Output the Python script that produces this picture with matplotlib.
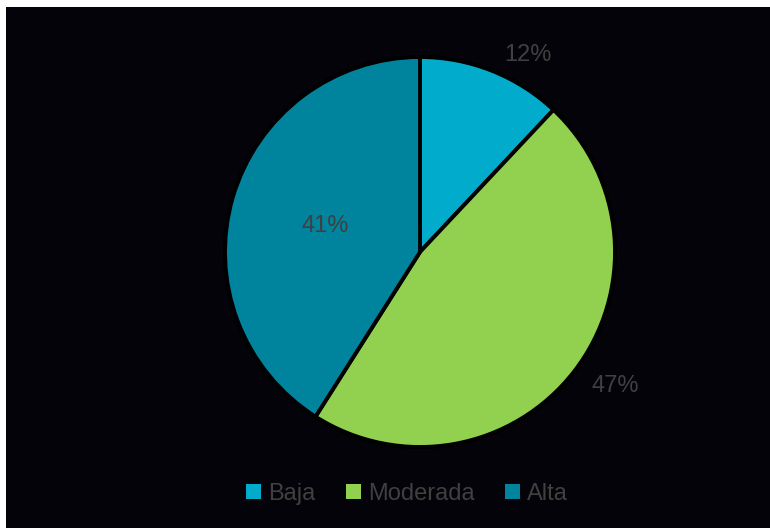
import numpy as np
import matplotlib
matplotlib.use("Agg")
import matplotlib.pyplot as plt
from matplotlib.patches import Patch, Rectangle

plt.rcParams['font.family'] = ['Liberation Sans', 'DejaVu Sans']

categories = ["Baja", "Moderada", "Alta"]
shares = [12, 47, 41]
labels = ["12%", "47%", "41%"]
colors = ["#00ABCC", "#92D050", "#00839C"]

# label placement (radius as fraction of pie radius, angle in degrees)
label_polar = [(1.152, 61.3), (1.213, -34.5), (0.505, 164.7)]

W, H = 770, 528
fig = plt.figure(figsize=(W / 100, H / 100), dpi=100, facecolor="white")
bg = "#030309"
fig.patches.append(Rectangle((6 / W, 0), 1 - 6 / W, 1 - 7 / H,
                             transform=fig.transFigure, facecolor=bg,
                             edgecolor="none", zorder=-10))

cx, cy, R = 420, H - 252, 195
box = 210
ax = fig.add_axes([(cx - box) / W, (cy - box) / H, 2 * box / W, 2 * box / H])
ax.set_zorder(5)

ax.pie(shares, colors=colors, startangle=90, counterclock=False, radius=R,
       wedgeprops=dict(edgecolor="black", linewidth=2.8), center=(0, 0),
       frame=True)
ax.set_xlim(-box, box)
ax.set_ylim(-box, box)
ax.set_aspect("equal")
ax.axis("off")

for lab, (r, ang) in zip(labels, label_polar):
    a = np.deg2rad(ang)
    ax.text(r * R * np.cos(a), r * R * np.sin(a), lab, ha="center",
            va="center", fontsize=17, color="#404040")

handles = [Patch(facecolor=c, edgecolor="none") for c in colors]
leg = fig.legend(handles, categories, loc="center", ncol=3, frameon=False,
                 bbox_to_anchor=(407 / W, (H - 494) / H), fontsize=17,
                 labelcolor="#404040", handlelength=0.63, handleheight=0.63,
                 handletextpad=0.3, columnspacing=1.3)
leg.set_zorder(6)

fig.savefig("out.png", dpi=100, facecolor="white")
